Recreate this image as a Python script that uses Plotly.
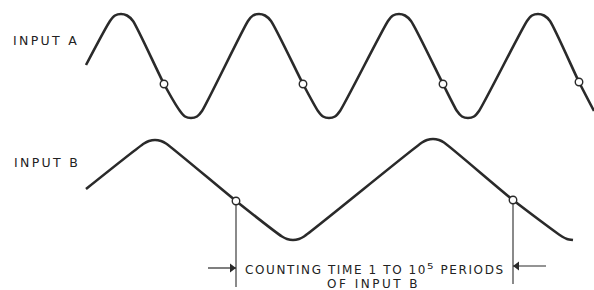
import plotly.graph_objects as go

# ---- data (time axis in px-like units, level downwards) ----
a_x = [86,
       110, 115, 121, 127, 133,
       164,
       180, 185, 191, 197, 202,
       248, 253, 259, 265, 271,
       303,
       318, 323, 329, 335, 340,
       388, 393, 399, 405, 411,
       443,
       457, 462, 468, 474, 479,
       527, 532, 538, 544, 550,
       579, 594]
a_y = [65,
       21, 15.5, 14, 15.5, 21,
       84,
       111, 116.5, 118, 116.5, 111,
       21, 15.5, 14, 15.5, 21,
       84,
       111, 116.5, 118, 116.5, 111,
       21, 15.5, 14, 15.5, 21,
       84,
       111, 116.5, 118, 116.5, 111,
       21, 15.5, 14, 15.5, 21,
       82, 111]
a_mark_x = [164, 303, 443, 579]
a_mark_y = [84, 84, 84, 82]

b_x = [86,
       144, 149, 155, 161, 166,
       236,
       282, 287, 293, 299, 304,
       422, 427, 433, 439, 444,
       513,
       562, 567, 573]
b_y = [189,
       143.5, 141, 140, 141, 143.5,
       201,
       236.5, 239, 240, 239, 236.5,
       142.5, 140, 139, 140, 142.5,
       200,
       236.5, 239, 240]
b_mark_x = [236, 513]
b_mark_y = [201, 200]

gate_bottom = [287, 284]
arrow_y = [268, 266]
arrow_tail_x = [208, 546]

labels = ["INPUT A", "INPUT B"]
label_x = [11, 12]
label_y = [40, 162]

count_line1 = "COUNTING TIME 1 TO 10<span style='font-size:16px'>\u2075</span> PERIODS"
count_line2 = "OF INPUT B"

INK = "#2a2a2a"
TXT = "#222222"
FONT = "DejaVu Sans"

fig = go.Figure()

for xs, ys in [(a_x, a_y), (b_x, b_y)]:
    fig.add_trace(go.Scatter(x=xs, y=ys, mode="lines",
                             line=dict(color=INK, width=2.6, shape="spline", smoothing=0.6),
                             hoverinfo="skip", showlegend=False))

# gate lines from the B crossing points
for mx, my, yb in zip(b_mark_x, b_mark_y, gate_bottom):
    fig.add_trace(go.Scatter(x=[mx, mx], y=[my + 4, yb], mode="lines",
                             line=dict(color=INK, width=1.1),
                             hoverinfo="skip", showlegend=False))

# arrows pointing at the gate lines
for mx, ay, tx in zip(b_mark_x, arrow_y, arrow_tail_x):
    fig.add_trace(go.Scatter(x=[tx, mx], y=[ay, ay], mode="lines",
                             line=dict(color=INK, width=1.2),
                             hoverinfo="skip", showlegend=False))
    sym = "triangle-right" if tx < mx else "triangle-left"
    tip = mx - 4 if tx < mx else mx + 4
    fig.add_trace(go.Scatter(x=[tip], y=[ay], mode="markers",
                             marker=dict(symbol=sym, size=8, color=INK, line=dict(width=0)),
                             hoverinfo="skip", showlegend=False))

for mx, my in [(a_mark_x, a_mark_y), (b_mark_x, b_mark_y)]:
    fig.add_trace(go.Scatter(x=mx, y=my, mode="markers",
                             marker=dict(symbol="circle", size=7.5, color="white",
                                         line=dict(color=INK, width=1.4)),
                             hoverinfo="skip", showlegend=False))

for t, lx, ly in zip(labels, label_x, label_y):
    fig.add_annotation(x=lx, y=ly, xref="x", yref="y", xanchor="left", yanchor="middle",
                       text=f"<span style='letter-spacing:2.3px'>{t}</span>",
                       showarrow=False, font=dict(family=FONT, size=12.5, color=TXT))

fig.add_annotation(x=243, y=268, xref="x", yref="y", xanchor="left", yanchor="middle",
                   text=f"<span style='letter-spacing:1.6px'>{count_line1}</span>",
                   showarrow=False, font=dict(family=FONT, size=12, color=TXT))
fig.add_annotation(x=325, y=284, xref="x", yref="y", xanchor="left", yanchor="middle",
                   text=f"<span style='letter-spacing:2.5px'>{count_line2}</span>",
                   showarrow=False, font=dict(family=FONT, size=12, color=TXT))

fig.update_layout(width=594, height=290, margin=dict(l=0, r=0, t=0, b=0),
                  paper_bgcolor="white", plot_bgcolor="white",
                  xaxis=dict(range=[0, 594], visible=False, fixedrange=True),
                  yaxis=dict(range=[290, 0], visible=False, fixedrange=True))

fig.write_html("out.html", config={"displayModeBar": False},
               post_script="document.body.style.margin='0';document.body.style.overflow='hidden';")
